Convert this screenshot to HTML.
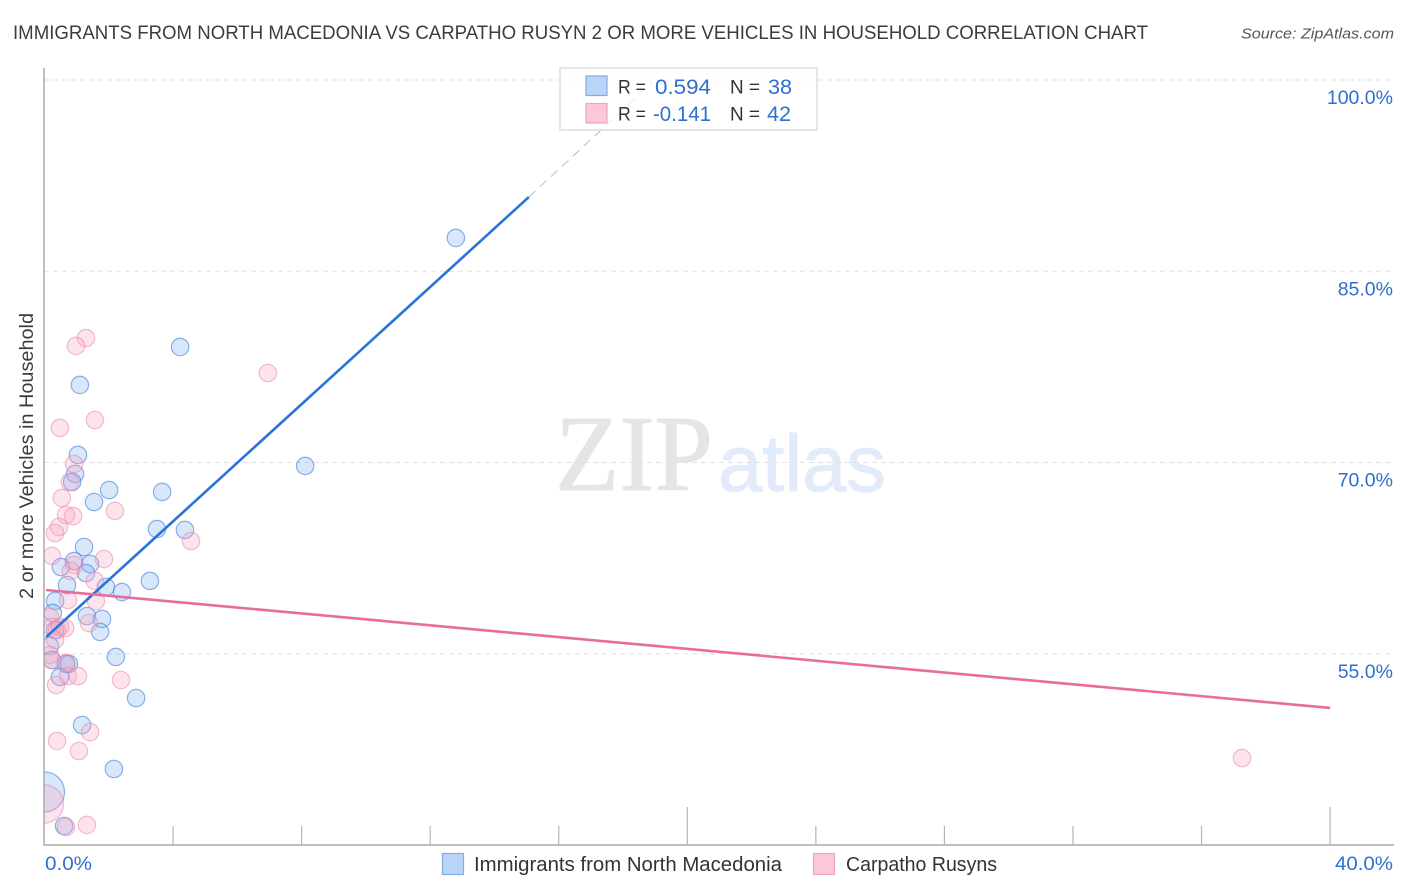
<!DOCTYPE html>
<html lang="en">
<head>
<meta charset="utf-8">
<title>Immigrants from North Macedonia vs Carpatho Rusyn chart</title>
<style>
html,body{margin:0;padding:0;background:#fff;width:1406px;height:892px;overflow:hidden}
svg{display:block}
text{font-family:"Liberation Sans",sans-serif}
</style>
</head>
<body>
<svg id="chart" xmlns="http://www.w3.org/2000/svg" width="1406" height="892" viewBox="0 0 1406 892">
  <defs>
    <clipPath id="plot-clip"><rect x="44" y="60" width="1350" height="785"/></clipPath>
  </defs>
  <rect x="0" y="0" width="1406" height="892" fill="#fff"/>
  <text x="13" y="39" font-size="19.5" fill="#3c3c3c" textLength="1135" lengthAdjust="spacingAndGlyphs">IMMIGRANTS FROM NORTH MACEDONIA VS CARPATHO RUSYN 2 OR MORE VEHICLES IN HOUSEHOLD CORRELATION CHART</text>
  <text x="1241" y="38.5" font-size="15" font-style="italic" fill="#555" textLength="153" lengthAdjust="spacingAndGlyphs">Source: ZipAtlas.com</text>
  <g>
    <text x="555" y="490" font-size="108" fill="#e5e5e5" stroke="#e5e5e5" stroke-width="1" style="font-family:'Liberation Serif',serif" textLength="158" lengthAdjust="spacingAndGlyphs">ZIP</text>
    <text x="718" y="491" font-size="80" fill="#e2ebf9" stroke="#e2ebf9" stroke-width="1" textLength="168" lengthAdjust="spacingAndGlyphs">atlas</text>
  </g>
  <g id="grid"></g>
  <g id="points" clip-path="url(#plot-clip)"></g>
  <g id="trends"></g>
  <g id="axes"></g>
  <text transform="translate(33,456) rotate(-90)" text-anchor="middle" font-size="19" fill="#3c3c3c" textLength="286" lengthAdjust="spacingAndGlyphs">2 or more Vehicles in Household</text>

  <g>
    <rect x="560" y="68" width="257" height="62" fill="#fff" fill-opacity="0.75" stroke="#ddd" stroke-width="1.5"/>
    <rect x="586" y="76" width="21" height="19.5" fill="#b9d4f7" stroke="#7fabe6" stroke-width="1.2"/>
    <rect x="586" y="103.5" width="21" height="19.5" fill="#fcc8d9" stroke="#f0a3bd" stroke-width="1.2"/>
    <text x="618" y="93.5" font-size="19" fill="#333" textLength="28" lengthAdjust="spacingAndGlyphs">R =</text>
    <text x="655" y="94" font-size="21.5" fill="#2f6fd0" textLength="56" lengthAdjust="spacingAndGlyphs">0.594</text>
    <text x="730" y="93.5" font-size="19" fill="#333" textLength="30" lengthAdjust="spacingAndGlyphs">N =</text>
    <text x="768" y="94" font-size="21.5" fill="#2f6fd0" textLength="24" lengthAdjust="spacingAndGlyphs">38</text>
    <text x="618" y="120.5" font-size="19" fill="#333" textLength="28" lengthAdjust="spacingAndGlyphs">R =</text>
    <text x="653" y="121" font-size="21.5" fill="#2f6fd0" textLength="58" lengthAdjust="spacingAndGlyphs">-0.141</text>
    <text x="730" y="120.5" font-size="19" fill="#333" textLength="30" lengthAdjust="spacingAndGlyphs">N =</text>
    <text x="767" y="121" font-size="21.5" fill="#2f6fd0" textLength="24" lengthAdjust="spacingAndGlyphs">42</text>
  </g>

  <g>
    <rect x="442.5" y="853.5" width="21" height="21" fill="#b9d4f7" stroke="#7fabe6" stroke-width="1.2"/>
    <text x="474" y="871" font-size="20" fill="#333" textLength="308" lengthAdjust="spacingAndGlyphs">Immigrants from North Macedonia</text>
    <rect x="813.5" y="853.5" width="21" height="21" fill="#fcc8d9" stroke="#f0a3bd" stroke-width="1.2"/>
    <text x="846" y="871" font-size="20" fill="#333" textLength="151" lengthAdjust="spacingAndGlyphs">Carpatho Rusyns</text>
  </g>
</svg>
<script>
const yTicks = [100, 85, 70, 55];
const yTickLabels = ["100.0%", "85.0%", "70.0%", "55.0%"];
const xTicks = [4, 8, 12, 16, 20, 24, 28, 32, 36, 40];
const xMajorTicks = [20, 40];
const xEndLabels = ["0.0%", "40.0%"];

const blueX = [12.80,4.22,1.10,1.04,8.11,0.95,0.86,2.01,3.66,1.54,3.50,4.37,1.23,0.92,0.51,1.42,1.29,0.70,3.28,1.91,2.41,0.33,0.26,1.32,1.79,1.73,0.33,0.17,2.22,0.23,0.67,0.76,0.48,2.85,1.17,2.16,0,0.61];
const blueY = [87.61,79.06,76.08,70.59,69.73,69.10,68.47,67.84,67.69,66.90,64.78,64.71,63.37,62.27,61.80,62.04,61.33,60.39,60.71,60.24,59.84,59.14,58.20,57.96,57.73,56.71,56.86,55.61,54.75,54.51,54.20,54.20,53.18,51.53,49.41,45.96,44.16,41.49];
const blueSize = [1,1,1,1,1,1,1,1,1,1,1,1,1,1,1,1,1,1,1,1,1,1,1,1,1,1,1,1,1,1,1,1,1,1,1,1,5.3,1];

const pinkX = [1.29,0.98,6.95,1.57,0.48,0.92,0.79,0.54,0.67,0.89,2.19,0.45,0.33,4.56,0.23,1.85,0.92,0.82,1.57,0.73,1.60,0.17,1.38,0.64,0.23,0.39,0.33,0.17,0.23,0.67,0.73,1.04,2.38,0.36,1.42,0.39,1.07,37.26,0,1.32,0.67,0.48];
const pinkY = [79.76,79.14,77.02,73.33,72.71,69.88,68.47,67.22,65.88,65.80,66.20,64.94,64.47,63.84,62.67,62.43,61.96,61.49,60.71,59.22,59.14,57.88,57.41,57.02,57.10,56.86,56.08,54.90,54.51,54.27,53.25,53.25,52.94,52.55,48.86,48.16,47.37,46.82,43.22,41.57,41.41,57.10];
const pinkSize = [1,1,1,1,1,1,1,1,1,1,1,1,1,1,1,1,1,1,1,1,1,1,1,1,1,1,1,1,1,1,1,1,1,1,1,1,1,1,4.8,1,1,1];

const blueTrendX = [0.05, 15.07];
const blueTrendY = [56.31, 90.82];
const blueProjectionX = [15.07, 18.93];
const blueProjectionY = [90.82, 99.84];
const pinkTrendX = [0.05, 40];
const pinkTrendY = [60.0, 50.75];

const SVG_NS = "http://www.w3.org/2000/svg";
function xScale(v) { return 44.5 + v * 32.14; }
function yScale(v) { return 80 + (100 - v) * 12.75; }
function rScale(s) { return 8.7 * Math.sqrt(s); }
function make(tag, attrs, parent) {
  const el = document.createElementNS(SVG_NS, tag);
  for (const k in attrs) el.setAttribute(k, attrs[k]);
  parent.appendChild(el);
  return el;
}

const grid = document.getElementById("grid");
const axes = document.getElementById("axes");
const points = document.getElementById("points");
const trends = document.getElementById("trends");

yTicks.forEach(function (t, i) {
  const line = make("line", {x1: 44, x2: 1394, y1: yScale(t), y2: yScale(t), stroke: "#e0e0e0", "stroke-width": 1, "stroke-dasharray": "5 4"}, grid);
  
  
  const label = make("text", {x: 1393, y: yScale(t) + 24, "text-anchor": "end", "font-size": 19.5, fill: "#2f6fd0"}, axes);
  label.textContent = yTickLabels[i];
  
  
});

const yAxisLine = make("line", {x1: 44, x2: 44, y1: 68, y2: 845.5, stroke: "#aaa", "stroke-width": 1.5}, axes);


const xAxisLine = make("line", {x1: 44, x2: 1394, y1: 845, y2: 845, stroke: "#aaa", "stroke-width": 1.5}, axes);



xTicks.forEach(function (t) {
  const top = xMajorTicks.indexOf(t) >= 0 ? 807 : 826;
  const tick = make("line", {x1: xScale(t), x2: xScale(t), y1: top, y2: 845, stroke: "#b5b5b5", "stroke-width": 1.2}, axes);
  
  
});

const xLabelStart = make("text", {x: 45, y: 870, "font-size": 19.5, fill: "#2f6fd0", textLength: 47, lengthAdjust: "spacingAndGlyphs"}, axes);
xLabelStart.textContent = xEndLabels[0];


const xLabelEnd = make("text", {x: 1335, y: 870, "font-size": 19.5, fill: "#2f6fd0", textLength: 58, lengthAdjust: "spacingAndGlyphs"}, axes);
xLabelEnd.textContent = xEndLabels[1];



blueX.forEach(function (v, i) {
  const c = make("circle", {cx: xScale(v), cy: yScale(blueY[i]), r: rScale(blueSize[i]), fill: "#7fb0ef", "fill-opacity": 0.3, stroke: "#4d8be0", "stroke-opacity": 0.65, "stroke-width": 1.2}, points);
  
  
});
pinkX.forEach(function (v, i) {
  const c = make("circle", {cx: xScale(v), cy: yScale(pinkY[i]), r: rScale(pinkSize[i]), fill: "#f7a6c0", "fill-opacity": 0.3, stroke: "#ec86a8", "stroke-opacity": 0.55, "stroke-width": 1.2}, points);
  
  
});

const blueLine = make("line", {x1: xScale(blueTrendX[0]), y1: yScale(blueTrendY[0]), x2: xScale(blueTrendX[1]), y2: yScale(blueTrendY[1]), stroke: "#2a73d9", "stroke-width": 2.6}, trends);


const blueDash = make("line", {x1: xScale(blueProjectionX[0]), y1: yScale(blueProjectionY[0]), x2: xScale(blueProjectionX[1]), y2: yScale(blueProjectionY[1]), stroke: "#9db8e0", "stroke-width": 0.9, "stroke-dasharray": "9 6"}, trends);


const pinkLine = make("line", {x1: xScale(pinkTrendX[0]), y1: yScale(pinkTrendY[0]), x2: xScale(pinkTrendX[1]), y2: yScale(pinkTrendY[1]), stroke: "#e86d9c", "stroke-width": 2.6}, trends);


</script>
</body>
</html>
